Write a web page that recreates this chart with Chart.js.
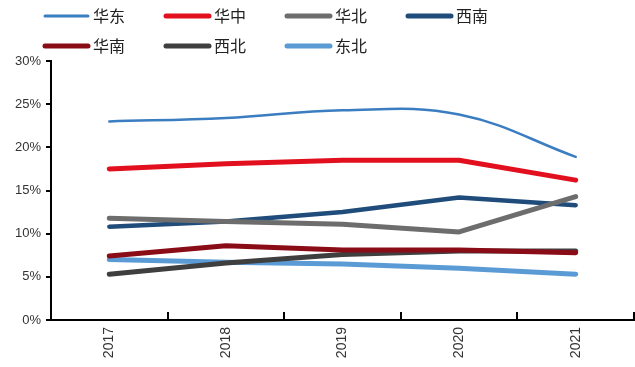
<!DOCTYPE html>
<html>
<head>
<meta charset="utf-8">
<script src="https://cdn.jsdelivr.net/npm/chart.js@4"></script>
<style>
  html, body { margin: 0; padding: 0; background: #fff; }
  #wrap { width: 635px; height: 367px; position: relative; }
</style>
</head>
<body>
<div id="wrap"><canvas id="c" width="635" height="367"></canvas></div>
<script>
// Regional share by year (%)
const years = ['2017', '2018', '2019', '2020', '2021'];
const regions = ['华东', '华中', '华北', '西南', '华南', '西北', '东北'];
const huadong  = [23.0, 23.4, 24.3, 23.8, 18.9];
const huazhong = [17.5, 18.1, 18.5, 18.5, 16.2];
const huabei   = [11.8, 11.4, 11.1, 10.2, 14.3];
const xinan    = [10.8, 11.4, 12.5, 14.2, 13.3];
const huanan   = [7.4, 8.6, 8.1, 8.1, 7.8];
const xibei    = [5.3, 6.6, 7.6, 8.0, 8.0];
const dongbei  = [7.0, 6.7, 6.5, 6.0, 5.3];
const yTicks   = [0, 5, 10, 15, 20, 25, 30];

const seriesValues = [huadong, huazhong, huabei, xinan, huanan, xibei, dongbei];
const colors = ['#3a7dc0', '#e2101e', '#6d6d6d', '#1f4c7a', '#8a0c16', '#3f3f3f', '#5b9bd5'];
const widths = [2.5, 5, 5, 4.5, 5, 5, 5];
const tensions = [0.4, 0, 0, 0, 0, 0, 0];

const datasets = regions.map((name, i) => ({
  label: name,
  data: seriesValues[i],
  borderColor: colors[i],
  backgroundColor: colors[i],
  borderWidth: widths[i],
  tension: tensions[i],
  pointRadius: 0,
  borderCapStyle: 'round',
  borderJoinStyle: 'round',
  fill: false
}));

// Four-column legend drawn on the canvas above the plot
const gridLegend = {
  id: 'gridLegend',
  afterDraw(chart) {
    const ctx = chart.ctx;
    ctx.save();
    chart.data.datasets.forEach((ds, i) => {
      const col = i % 4, row = Math.floor(i / 4);
      const x0 = 43 + col * 121;
      const y = 16 + row * 30;
      ctx.beginPath();
      ctx.lineCap = 'round';
      ctx.strokeStyle = ds.borderColor;
      ctx.lineWidth = ds.borderWidth < 3 ? 3 : 5;
      ctx.moveTo(x0 + 2, y);
      ctx.lineTo(x0 + 45, y);
      ctx.stroke();
      ctx.fillStyle = '#222';
      ctx.font = '16px "Noto Sans CJK SC", sans-serif';
      ctx.textBaseline = 'middle';
      ctx.textAlign = 'left';
      ctx.fillText(ds.label, x0 + 50, y);
    });
    ctx.restore();
  }
};

new Chart(document.getElementById('c'), {
  type: 'line',
  data: { labels: years, datasets },
  plugins: [gridLegend],
  options: {
    responsive: false,
    animation: false,
    devicePixelRatio: 1,
    layout: { padding: { top: 61, right: 1, left: 0, bottom: 0 } },
    plugins: { legend: { display: false }, tooltip: { enabled: false } },
    scales: {
      x: {
        type: 'category',
        offset: true,
        border: { display: true, color: '#000', width: 2 },
        grid: { offset: true, drawOnChartArea: false, color: '#000', lineWidth: 2, tickLength: -8 },
        ticks: {
          color: '#333',
          font: { family: '"Liberation Sans", Arial, sans-serif', size: 14 },
          minRotation: 90, maxRotation: 90,
          padding: 15
        },
        afterFit(scale) { scale.height = 47; }
      },
      y: {
        min: 0, max: 30,
        afterBuildTicks(scale) { scale.ticks = yTicks.map(v => ({ value: v })); },
        border: { display: true, color: '#000', width: 2 },
        grid: { drawOnChartArea: false, color: '#000', lineWidth: 2, tickLength: 5 },
        ticks: {
          color: '#333',
          font: { family: '"Liberation Sans", Arial, sans-serif', size: 13 },
          padding: 5,
          callback: v => v + '%'
        },
        afterFit(scale) { scale.width = 51; }
      }
    }
  }
});
</script>
</body>
</html>
